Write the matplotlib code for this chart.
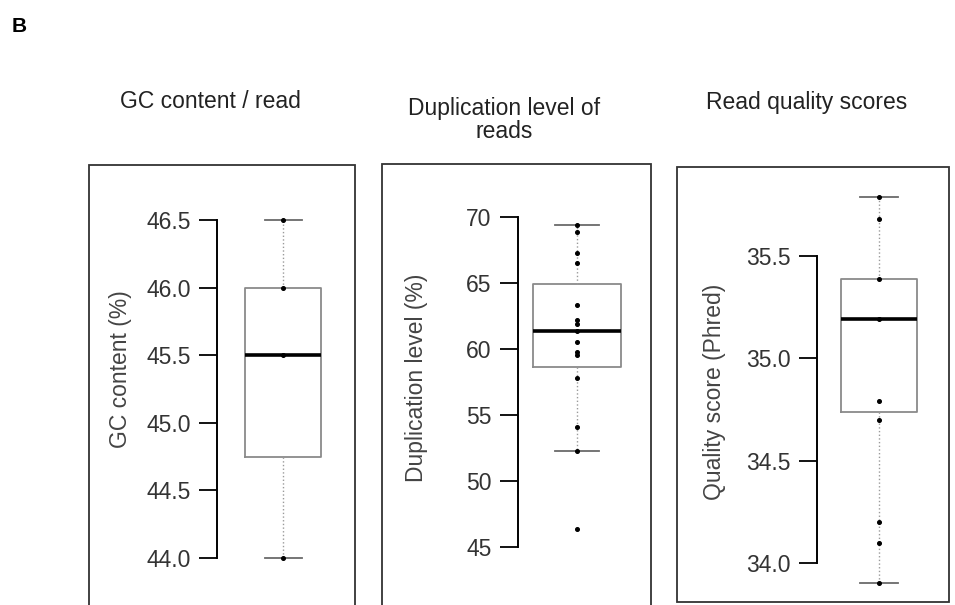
import matplotlib
matplotlib.use('Agg')
import matplotlib.pyplot as plt
from matplotlib.patches import Rectangle
from matplotlib.ticker import FormatStrFormatter

plt.rcParams['font.family'] = ['Liberation Sans', 'DejaVu Sans']

# panel titles / labels
titles = ['GC content / read', 'Duplication level of\nreads', 'Read quality scores']
ylabels = ['GC content (%)', 'Duplication level (%)', 'Quality score (Phred)']

# box statistics
gc_stats = dict(whislo=44.0, q1=44.75, med=45.5, q3=46.0, whishi=46.5)
dup_stats = dict(whislo=52.3, q1=58.6, med=61.4, q3=64.9, whishi=69.4)
qual_stats = dict(whislo=33.90, q1=34.74, med=35.19, q3=35.39, whishi=35.79)

# individual samples (dots)
gc_points = [46.5, 46.0, 45.5, 44.0]
dup_points = [69.4, 68.9, 67.25, 66.5, 63.3, 62.2, 61.9, 61.4, 60.55, 59.8,
              59.55, 57.8, 54.1, 52.3, 46.4]
qual_points = [35.79, 35.68, 35.39, 35.19, 34.79, 34.70, 34.20, 34.10, 33.90]

gc_ticks = [44.0, 44.5, 45.0, 45.5, 46.0, 46.5]
dup_ticks = [45, 50, 55, 60, 65, 70]
qual_ticks = [34.0, 34.5, 35.0, 35.5]

W, H = 955, 605
fig = plt.figure(figsize=(W / 100, H / 100), dpi=100)
fig.text(12 / W, 1 - 26 / H, 'B', fontsize=15, fontweight='bold', va='center')


def px_axes(left, right, top, bottom):
    return fig.add_axes([left / W, 1 - bottom / H, (right - left) / W, (bottom - top) / H])


# layout in pixels: frame box, spine x, box centre x, tick pixel rows, title pos, ylabel pos
panels = [
    dict(frame=(89, 355, 165, 625), spine=217, centre=283, ref=(46.5, 220, 44.0, 558),
         stats=gc_stats, pts=gc_points, ticks=gc_ticks, fmt='%.1f',
         box_w=76, cap_w=37, title=(210, 102), ylab=(121, 369)),
    dict(frame=(382, 651, 164, 625), spine=518, centre=577, ref=(70, 217, 45, 547),
         stats=dup_stats, pts=dup_points, ticks=dup_ticks, fmt='%d',
         box_w=88, cap_w=44, title=(504, 120), ylab=(416, 378)),
    dict(frame=(677, 949, 167, 602), spine=817, centre=879, ref=(35.5, 256, 34.0, 563),
         stats=qual_stats, pts=qual_points, ticks=qual_ticks, fmt='%.1f',
         box_w=76, cap_w=38, title=(807, 102), ylab=(714, 392)),
]

for i, p in enumerate(panels):
    fl, fr, ft, fb = p['frame']
    fig.patches.append(Rectangle((fl / W, 1 - fb / H), (fr - fl) / W, (fb - ft) / H,
                                 transform=fig.transFigure, fill=False,
                                 edgecolor='#333333', lw=1.3))

    top, bottom = 172, 598
    v1, y1, v2, y2 = p['ref']
    s = (y2 - y1) / (v1 - v2)
    ylim = (v2 - (bottom - y2) / s, v1 + (y1 - top) / s)

    half = p['centre'] - p['spine']
    ax = px_axes(p['spine'], p['spine'] + 2 * half, top, bottom)
    ax.set_xlim(0, 2)
    ax.set_ylim(*ylim)
    ax.patch.set_visible(False)

    ax.bxp([p['stats']], positions=[1], widths=p['box_w'] / half,
           capwidths=p['cap_w'] / half, showfliers=False,
           boxprops=dict(color='#8a8a8a', lw=1.3),
           whiskerprops=dict(color='#9a9a9a', lw=1.0, linestyle=':'),
           capprops=dict(color='#6a6a6a', lw=1.3),
           medianprops=dict(color='black', lw=2.6))
    ax.plot([1] * len(p['pts']), p['pts'], 'o', ms=2.6, color='black', zorder=5)

    for side in ['top', 'right', 'bottom']:
        ax.spines[side].set_visible(False)
    ax.spines['left'].set_bounds(min(p['ticks']), max(p['ticks']))
    ax.spines['left'].set_linewidth(1.4)
    ax.set_xticks([])
    ax.set_yticks(p['ticks'])
    ax.yaxis.set_major_formatter(FormatStrFormatter(p['fmt']))
    ax.tick_params(axis='y', length=13, width=1.3, pad=6, labelsize=16.5,
                   labelcolor='#333333')

    tx, ty = p['title']
    fig.text(tx / W, 1 - ty / H, titles[i], fontsize=16.5, color='#222222',
             ha='center', va='center', linespacing=1.05)
    lx, ly = p['ylab']
    fig.text(lx / W, 1 - ly / H, ylabels[i], fontsize=16.5, color='#444444',
             rotation=90, ha='center', va='center')

fig.savefig('out.png', dpi=100)
